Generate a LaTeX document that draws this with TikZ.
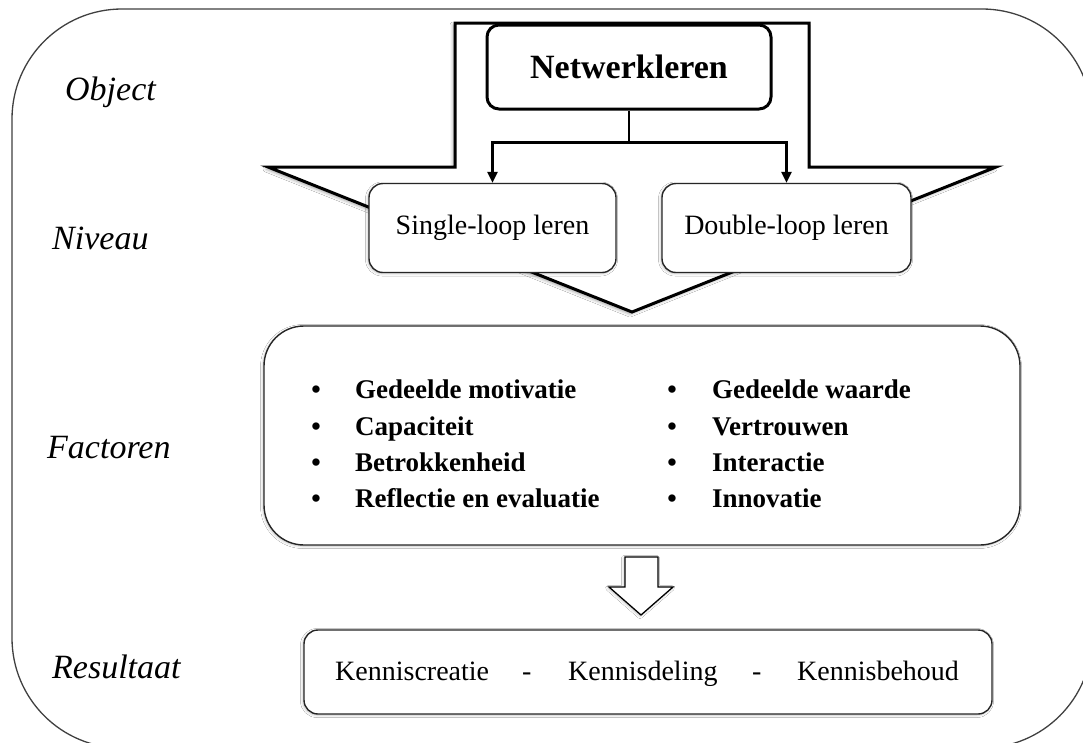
\documentclass[tikz,border=0pt]{standalone}
\usepackage{fontspec}
\setmainfont{Liberation Serif}
\usetikzlibrary{arrows.meta,calc,shadows.blur}
\begin{document}
\begin{tikzpicture}[x=1pt,y=-1pt,
  softshadow/.style={blur shadow={shadow xshift=-1pt,shadow yshift=-1pt,shadow blur radius=2.5pt,shadow opacity=25}},
  levelbox/.style={draw=black!85,line width=1.4pt,rounded corners=14pt,fill=white,softshadow,
    inner sep=0pt,font=\fontsize{28}{32}\selectfont},
  rowlabel/.style={anchor=base west,inner sep=0pt,font=\fontsize{34}{40}\selectfont\itshape},
  factor/.style={anchor=base west,inner sep=0pt,font=\fontsize{27}{32}\selectfont\bfseries},
  dot/.style={anchor=base,inner sep=0pt,font=\fontsize{27}{32}\selectfont\bfseries},
  result/.style={anchor=base west,inner sep=0pt,font=\fontsize{28}{32}\selectfont},
  link/.style={line width=2.6pt,draw=black},
]
\useasboundingbox (0,0) rectangle (1083,742);
\fill[white] (0,0) rectangle (1083,742);

% outer frame, running off the right and bottom edges
\begin{scope}
  \clip (0,0) rectangle (1083,742);
  \draw[line width=1.3pt,draw=black!75,rounded corners=110pt] (12,9) rectangle (1092,748);
\end{scope}

% row labels
\node[rowlabel] (lobject) at (65,100) {Object};
\node[rowlabel] (lniveau) at (52,249) {Niveau};
\node[rowlabel] (lfactor) at (47,458) {Factoren};
\node[rowlabel] (lresult) at (52,678) {Resultaat};

% large block arrow behind the top part
\draw[line width=3pt,fill=white,line join=miter,
  blur shadow={shadow xshift=-2pt,shadow yshift=-2pt,shadow blur radius=3pt,shadow opacity=35}]
  (455,23) -- (809,23) -- (809,167) -- (996,167) -- (632,312) -- (268,167) -- (455,167) -- cycle;

% object
\node[draw,line width=3pt,rounded corners=12pt,fill=white,minimum width=284pt,minimum height=84pt,
  inner sep=0pt,font=\fontsize{34}{40}\selectfont\bfseries] (net) at (629,67) {Netwerkleren};

% levels
\node[levelbox,minimum width=247pt,minimum height=89pt] (single) at (492.5,228) {Single-loop leren};
\node[levelbox,minimum width=249pt,minimum height=89pt] (double) at (786.5,228) {Double-loop leren};

\coordinate (split) at ($(net.south)+(0,32)$);
\draw[link] (net.south) -- (split);
\draw[link,-{Triangle[length=11pt,width=10pt]}] (split) -| (single.north);
\draw[link,-{Triangle[length=11pt,width=10pt]}] (split) -| (double.north);

% factors
\node[draw=black!85,line width=1.4pt,rounded corners=40pt,fill=white,softshadow,
  minimum width=756pt,minimum height=219pt] (fac) at (642,435.5) {};
\foreach \y/\txt [count=\i] in {398/Gedeelde motivatie,435/Capaciteit,471/Betrokkenheid,507/Reflectie en evaluatie}{
  \node[dot] (bl\i) at (316,\y) {\textbullet};
  \node[factor] (fl\i) at (355,\y) {\txt};
}
\foreach \y/\txt [count=\i] in {398/Gedeelde waarde,435/Vertrouwen,471/Interactie,507/Innovatie}{
  \node[dot] (br\i) at (672,\y) {\textbullet};
  \node[factor] (fr\i) at (712,\y) {\txt};
}

% hollow arrow towards the result
\draw[line width=1.3pt,fill=white,line join=miter,softshadow]
  (625,557) -- (658,557) -- (658,587) -- (673,587) -- (641,615) -- (609,587) -- (625,587) -- cycle;

% result
\node[draw=black!85,line width=1.4pt,rounded corners=14pt,fill=white,softshadow,
  minimum width=688pt,minimum height=84pt] (res) at (648,672) {};
\node[result] (r1) at (335,680) {Kenniscreatie};
\node[result] (d1) at (522,680) {-};
\node[result] (r2) at (568,680) {Kennisdeling};
\node[result] (d2) at (752,680) {-};
\node[result] (r3) at (797,680) {Kennisbehoud};
\end{tikzpicture}
\end{document}
